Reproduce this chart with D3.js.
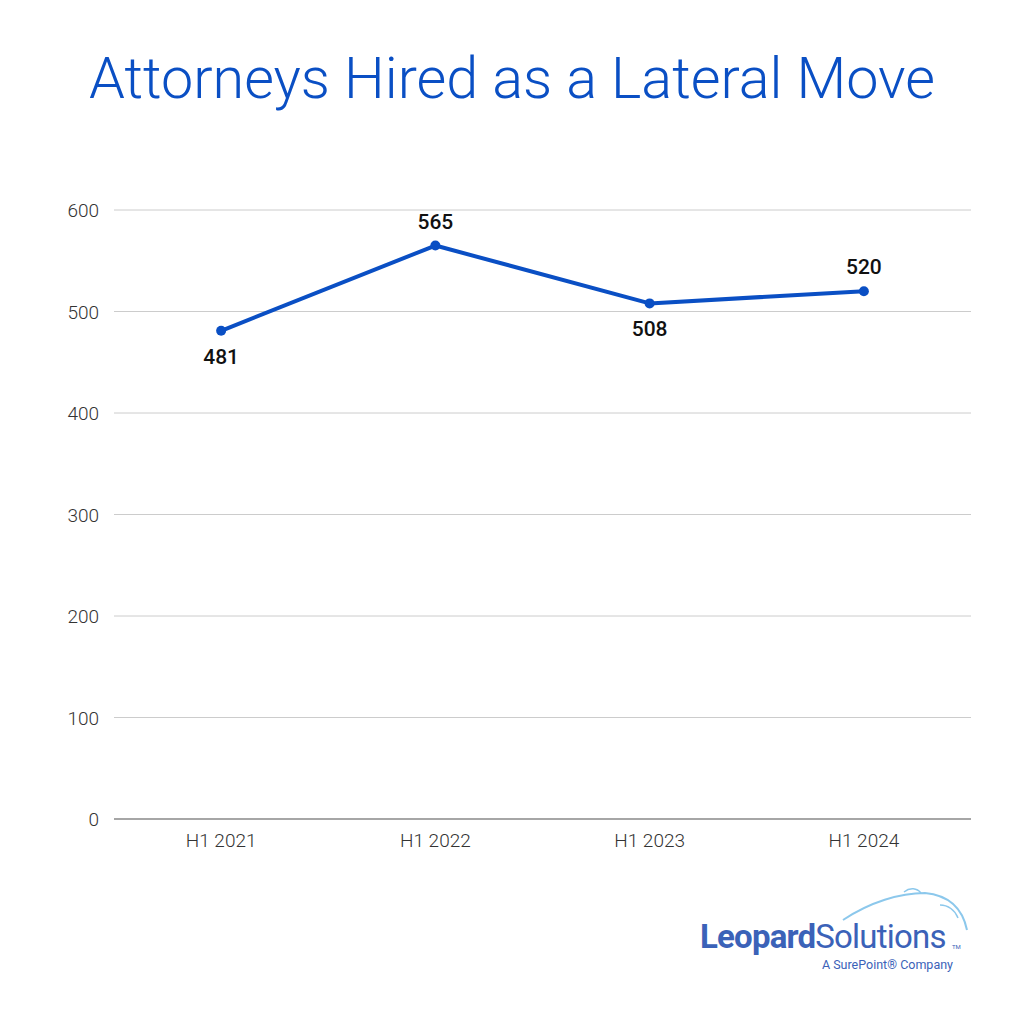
<!DOCTYPE html>
<html><head><meta charset="utf-8">
<script src="https://cdn.jsdelivr.net/npm/d3@7"></script>
<style>body{margin:0;background:#fff}svg{display:block}</style>
</head><body>
<script>
const categories = ["H1 2021","H1 2022","H1 2023","H1 2024"];
const values = [481,565,508,520];
const labelPos = ["below","above","below","above"];
const yTicks = [0,100,200,300,400,500,600];
const title = "Attorneys Hired as a Lateral Move";

const W=1024,H=1024;
const svg=d3.select("body").append("svg").attr("width",W).attr("height",H);
svg.append("rect").attr("width",W).attr("height",H).attr("fill","#fff");
const blue="#0a4fc4";
svg.append("text").attr("x",512).attr("y",98).attr("text-anchor","middle")
  .attr("font-family","Roboto").attr("font-weight",300).attr("font-size",57.5)
  .attr("fill",blue).text(title);

const x=d3.scaleBand().domain(categories).range([114,971]);
const y=d3.scaleLinear().domain([0,600]).range([819,210]);

const g=svg.append("g");
g.selectAll("line.grid").data(yTicks.filter(d=>d>0)).join("line").attr("class","grid")
  .attr("x1",114).attr("x2",971).attr("y1",d=>y(d)).attr("y2",d=>y(d))
  .attr("stroke","#cccccc").attr("stroke-width",1);
g.append("line").attr("x1",114).attr("x2",971).attr("y1",y(0)).attr("y2",y(0))
  .attr("stroke","#888").attr("stroke-width",1.3);
g.selectAll("text.yt").data(yTicks).join("text").attr("class","yt")
  .attr("x",99).attr("y",d=>y(d)+7).attr("text-anchor","end")
  .attr("font-family","Roboto").attr("font-weight",300).attr("font-size",19)
  .attr("fill","#333").text(d=>d);
g.selectAll("text.xt").data(categories).join("text").attr("class","xt")
  .attr("x",d=>x(d)+x.bandwidth()/2).attr("y",847).attr("text-anchor","middle")
  .attr("font-family","Roboto").attr("font-weight",300).attr("font-size",19)
  .attr("fill","#333").text(d=>d);

const pts=categories.map((c,i)=>({c,v:values[i],p:labelPos[i]}));
const line=d3.line().x(d=>x(d.c)+x.bandwidth()/2).y(d=>y(d.v));
g.append("path").datum(pts).attr("d",line).attr("fill","none")
  .attr("stroke",blue).attr("stroke-width",4).attr("stroke-linejoin","round");
g.selectAll("circle").data(pts).join("circle")
  .attr("cx",d=>x(d.c)+x.bandwidth()/2).attr("cy",d=>y(d.v)).attr("r",5).attr("fill",blue);
g.selectAll("text.dl").data(pts).join("text").attr("class","dl")
  .attr("x",d=>x(d.c)+x.bandwidth()/2).attr("y",d=>d.p==="above"?y(d.v)-17:y(d.v)+33)
  .attr("text-anchor","middle").attr("font-family","Roboto").attr("font-weight",500)
  .attr("font-size",21).attr("fill","#111").text(d=>d.v);

// logo
const lg=svg.append("g");
lg.append("path").attr("d","M843,920 C870,902 900,893 925,893 C946,895 962,906 967,930")
  .attr("fill","none").attr("stroke","#8cc8ec").attr("stroke-width",2);
lg.append("path").attr("d","M904,892 C910,887 917,888 921,893 M940,905 C948,905 955,910 958,918")
  .attr("fill","none").attr("stroke","#8cc8ec").attr("stroke-width",1.5);
const t=lg.append("text").attr("x",700).attr("y",948).attr("font-family","Roboto")
  .attr("font-size",33).attr("fill","#3b62b8").attr("letter-spacing",-0.8);
t.append("tspan").attr("font-weight",700).text("Leopard");
t.append("tspan").attr("font-weight",400).text("Solutions");
lg.append("text").attr("x",952).attr("y",949).attr("font-family","Roboto").attr("font-size",6)
  .attr("fill","#3b62b8").text("TM");
lg.append("text").attr("x",953).attr("y",969).attr("text-anchor","end")
  .attr("font-family","Roboto").attr("font-size",12.5).attr("fill","#3b62b8")
  .text("A SurePoint® Company");
</script>
</body></html>
